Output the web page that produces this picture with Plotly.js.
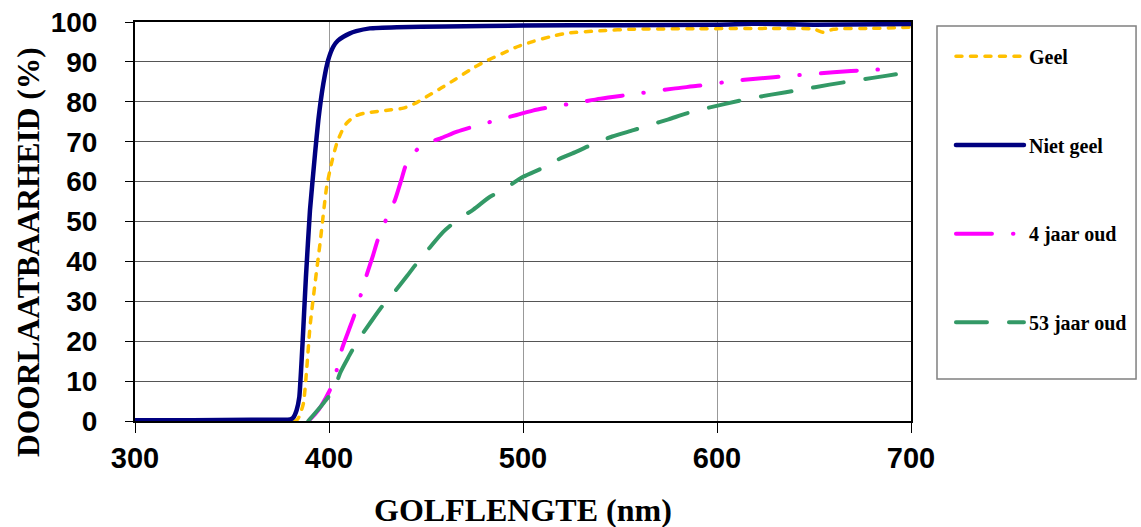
<!DOCTYPE html>
<html>
<head>
<meta charset="utf-8">
<script src="https://cdn.plot.ly/plotly-3.0.1.min.js"></script>
<style>
html,body{margin:0;padding:0;background:#fff;}
#chart{width:1141px;height:527px;}
.js-line{stroke-linecap:round;}
</style>
</head>
<body>
<div id="chart"></div>
<script>
// ---- data ----
const seriesNames = ["Geel", "Niet geel", "4 jaar oud", "53 jaar oud"];

const geelX = [300,383,384.5,386.8,388.5,390.2,392.8,395.4,398.8,401.5,404,406.5,409,413,417.7,425,432,438.3,444,450.4,458,465,472.7,480,489.8,496,505,514,522.5,540,556.9,590,625.6,650,654.8,660,680,700];
const geelY = [0,0.1,1,4.4,13,23.6,34.5,44.6,58.7,65,69.6,72.5,74.6,76.3,77.1,77.6,78,78.4,79.5,81.3,83.5,85.6,88,90,92.2,93.6,95.1,96.3,97.2,97.8,98.2,98.3,98.4,98.2,97.4,98.2,98.4,98.7];

const nietGeelX = [300,330,360,380,381.5,383.3,384.7,385.9,386.8,388.1,390.2,392.8,394.5,397.1,399.6,402.2,404.5,407.4,410.5,414,421,435,460,500,550,600,622,650,700];
const nietGeelY = [0.2,0.2,0.3,0.4,0.8,2.7,6,15.3,23.6,36,52.9,67,75.4,84.6,90.5,93.8,95.3,96.3,97.1,97.7,98.4,98.7,98.9,99.1,99.2,99.3,99.6,99.3,99.5];

const vierX = [390,393,396,398,400.5,402,404,406.5,410,413.4,416.5,419.4,422.5,425.4,429.7,434,437,440,443.5,446.9,451,457.2,466,475.3,486.4,496.7,505,515.6,525.9,540,556.9,577.5,590,608.4,620,637.6,660,678.9,692];
const vierY = [0.3,1.8,3.8,5.5,7.8,10,12.8,17.8,22.5,27,31.8,36.6,41.2,45.8,50.8,55.4,60,64.6,67,68.7,69.8,70.8,72.5,73.9,75.4,76.7,77.8,78.8,79.6,80.8,81.9,83.3,84,85.2,85.8,86.5,87.4,88,88.2];

const drieVijftigX = [389.3,392,395,398,400,402.2,405.7,410,415.1,421.1,427,433.1,440,446,452,458.9,466,474.4,483,490,500,509.6,518,527.6,537,546,556.9,565.5,575,584.4,594.7,613.6,628,643,658,673.7,687,700];
const drieVijftigY = [0,1.5,3.2,5,6.2,7.3,12,16,20.3,24.5,28.5,32,36.2,40,43.5,47.4,50.3,53,56.2,58,61.2,63.3,65.5,67.5,69.6,71.3,72.9,74.2,75.6,77.1,78.4,80.5,81.8,83,84.3,85.5,86.5,87.5];

const xTicks = [300,400,500,600,700];
const yTicks = [0,10,20,30,40,50,60,70,80,90,100];
const xTitle = "GOLFLENGTE (nm)";
const yTitle = "DOORLAATBAARHEID (%)";

// ---- traces ----
const traces = [
  {x: geelX, y: geelY, name: seriesNames[0], legendgroup: "g1", mode: "lines",
   line: {color: "#FFC000", width: 3.5, dash: "6px,8.5px", shape: "spline", smoothing: 0.6}},
  {x: nietGeelX, y: nietGeelY, name: seriesNames[1], legendgroup: "g2", mode: "lines",
   line: {color: "#000080", width: 4.5, shape: "spline", smoothing: 0.4}},
  {x: vierX, y: vierY, name: seriesNames[2], legendgroup: "g3", mode: "lines",
   line: {color: "#FF00FF", width: 4, dash: "36px,21px,0.5px,21px", shape: "spline", smoothing: 0.7}},
  {x: drieVijftigX, y: drieVijftigY, name: seriesNames[3], legendgroup: "g4", mode: "lines",
   line: {color: "#339966", width: 4, dash: "31px,22px", shape: "spline", smoothing: 0.7}}
];

const layout = {
  width: 1141, height: 527,
  margin: {l: 135, r: 230, t: 22, b: 106, autoexpand: false},
  paper_bgcolor: "#fff", plot_bgcolor: "#fff",
  showlegend: true,
  legend: {
    x: 1.0515, xanchor: "left", y: 0.963, yanchor: "top",
    traceorder: "grouped", tracegroupgap: 59.7,
    itemwidth: 68,
    bgcolor: "rgba(0,0,0,0)", borderwidth: 0,
    font: {family: "Liberation Serif", size: 20, color: "#000", weight: "bold"}
  },
  xaxis: {
    range: [300, 700], tickvals: xTicks, ticktext: xTicks.map(String),
    showgrid: true, gridcolor: "#999", gridwidth: 1,
    zeroline: false, showline: true, linecolor: "#000", linewidth: 2, mirror: true,
    ticks: "outside", ticklen: 10, tickcolor: "#000", tickwidth: 1,
    tickfont: {family: "Liberation Sans", size: 29, color: "#000", weight: "bold"}
  },
  yaxis: {
    range: [0, 100], tickvals: yTicks, ticktext: yTicks.map(String),
    showgrid: true, gridcolor: "#555", gridwidth: 1,
    zeroline: false, showline: true, linecolor: "#000", linewidth: 2, mirror: true,
    ticks: "outside", ticklen: 8, tickcolor: "#000", tickwidth: 1,
    ticklabelstandoff: 22,
    tickfont: {family: "Liberation Sans", size: 28, color: "#000", weight: "bold"}
  },
  annotations: [
    {text: xTitle, xref: "paper", yref: "paper", x: 0.5, y: (421 - 510) / 399,
     xanchor: "center", yanchor: "middle", showarrow: false,
     font: {family: "Liberation Serif", size: 32, color: "#000", weight: "bold"}},
    {text: yTitle, xref: "paper", yref: "paper", x: (28 - 135) / 776, y: (421 - 252) / 399,
     xanchor: "center", yanchor: "middle", showarrow: false, textangle: -90,
     font: {family: "Liberation Serif", size: 31.5, color: "#000", weight: "bold"}}
  ],
  shapes: [
    {type: "rect", xref: "paper", yref: "paper",
     x0: 1.0335, x1: 1.29, y0: (421 - 379) / 399, y1: (421 - 26) / 399,
     line: {color: "#808080", width: 1.5}, fillcolor: "rgba(0,0,0,0)"}
  ]
};

Plotly.newPlot("chart", traces, layout, {displayModeBar: false, staticPlot: true});
</script>
</body>
</html>
